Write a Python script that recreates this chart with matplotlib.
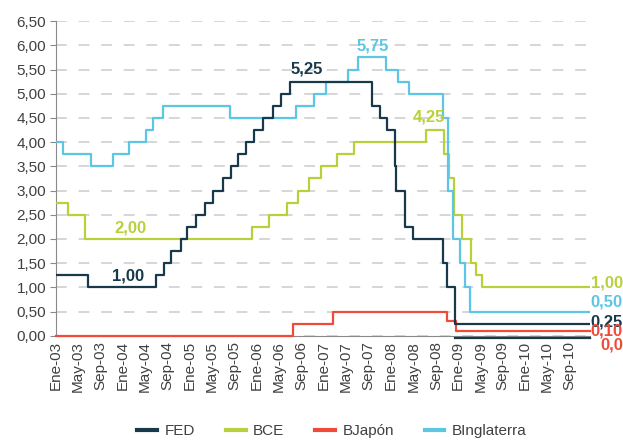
import numpy as np
import pandas as pd
import matplotlib
matplotlib.use('Agg')
import matplotlib.pyplot as plt
import matplotlib.dates as mdates
import matplotlib.transforms as mtransforms
from matplotlib.ticker import FuncFormatter, MultipleLocator

plt.rcParams['font.family'] = ['Liberation Sans', 'DejaVu Sans']

# fechas de cambio de tipo y nuevo tipo (%)
fed_fechas = ['2003-01-01', '2003-06-25', '2004-06-30', '2004-08-10', '2004-09-21', '2004-11-10',
              '2004-12-14', '2005-02-02', '2005-03-22', '2005-05-03', '2005-06-30', '2005-08-09',
              '2005-09-20', '2005-11-01', '2005-12-13', '2006-01-31', '2006-03-28', '2006-05-10',
              '2006-06-29', '2007-09-18', '2007-10-31', '2007-12-11', '2008-01-22', '2008-01-30',
              '2008-03-18', '2008-04-30', '2008-10-08', '2008-10-29', '2008-12-16']
fed_tipos = [1.25, 1.00, 1.25, 1.50, 1.75, 2.00, 2.25, 2.50, 2.75, 3.00, 3.25, 3.50, 3.75, 4.00,
             4.25, 4.50, 4.75, 5.00, 5.25, 4.75, 4.50, 4.25, 3.50, 3.00, 2.25, 2.00, 1.50, 1.00, 0.25]
fed_min_fechas = ['2008-12-16']
fed_min_tipos = [0.0]

bce_fechas = ['2003-01-01', '2003-03-07', '2003-06-06', '2005-12-06', '2006-03-08', '2006-06-15',
              '2006-08-09', '2006-10-11', '2006-12-13', '2007-03-14', '2007-06-13', '2008-07-09',
              '2008-10-15', '2008-11-12', '2008-12-10', '2009-01-21', '2009-03-11', '2009-04-08',
              '2009-05-13']
bce_tipos = [2.75, 2.50, 2.00, 2.25, 2.50, 2.75, 3.00, 3.25, 3.50, 3.75, 4.00, 4.25, 3.75, 3.25,
             2.50, 2.00, 1.50, 1.25, 1.00]

boj_fechas = ['2003-01-01', '2006-07-14', '2007-02-21', '2008-10-31', '2008-12-19']
boj_tipos = [0.0, 0.25, 0.50, 0.30, 0.10]

boe_fechas = ['2003-01-01', '2003-02-06', '2003-07-10', '2003-11-06', '2004-02-05', '2004-05-06',
              '2004-06-10', '2004-08-05', '2005-08-04', '2006-08-03', '2006-11-09', '2007-01-11',
              '2007-05-10', '2007-07-05', '2007-12-06', '2008-02-07', '2008-04-10', '2008-10-08',
              '2008-11-06', '2008-12-04', '2009-01-08', '2009-02-05', '2009-03-05']
boe_tipos = [4.00, 3.75, 3.50, 3.75, 4.00, 4.25, 4.50, 4.75, 4.50, 4.75, 5.00, 5.25, 5.50, 5.75,
             5.50, 5.25, 5.00, 4.50, 3.00, 2.00, 1.50, 1.00, 0.50]

fin = '2010-12-20'
meses = ['Ene', 'Feb', 'Mar', 'Abr', 'May', 'Jun', 'Jul', 'Ago', 'Sep', 'Oct', 'Nov', 'Dic']

c_fed = '#17394a'
c_bce = '#b9d03c'
c_boj = '#ef4a3a'
c_boe = '#5cc6e4'
c_txt = '#404040'


def escalon(fechas, tipos):
    x = pd.to_datetime(fechas + [fin])
    y = tipos + [tipos[-1]]
    return x, y


fig = plt.figure(figsize=(6.23, 4.40), dpi=100)
ax = fig.add_axes([0.09, 0.237, 0.857, 0.715])

lw = 1.6
x, y = escalon(fed_fechas, fed_tipos)
ax.plot(x, y, drawstyle='steps-post', color=c_fed, lw=lw, label='FED', zorder=4)
x, y = escalon(fed_min_fechas, fed_min_tipos)
off = mtransforms.offset_copy(ax.transData, fig=fig, x=0, y=-2, units='dots')
ax.plot(x, y, drawstyle='steps-post', color=c_fed, lw=lw, transform=off, clip_on=False, zorder=4)
x, y = escalon(bce_fechas, bce_tipos)
ax.plot(x, y, drawstyle='steps-post', color=c_bce, lw=lw, label='BCE', zorder=3)
x, y = escalon(boj_fechas, boj_tipos)
ax.plot(x, y, drawstyle='steps-post', color=c_boj, lw=lw, label='BJapón', zorder=3, clip_on=False)
x, y = escalon(boe_fechas, boe_tipos)
ax.plot(x, y, drawstyle='steps-post', color=c_boe, lw=lw, label='BInglaterra', zorder=3)

ax.set_xlim(pd.Timestamp('2003-01-01'), pd.Timestamp(fin))
ax.set_ylim(0, 6.5)
ax.yaxis.set_major_locator(MultipleLocator(0.5))
ax.yaxis.set_major_formatter(FuncFormatter(lambda v, p: f'{v:.2f}'.replace('.', ',')))
ax.xaxis.set_major_locator(mdates.MonthLocator(bymonth=[1, 5, 9]))
ax.xaxis.set_major_formatter(FuncFormatter(
    lambda v, p: f"{meses[mdates.num2date(v).month - 1]}-{mdates.num2date(v).year % 100:02d}"))
plt.setp(ax.get_xticklabels(), rotation=90)

ax.grid(axis='y', color='#d3d3d3', ls=(0, (6, 6.5)), lw=1.3)
ax.set_axisbelow(True)
for s in ['top', 'right']:
    ax.spines[s].set_visible(False)
ax.spines['left'].set_color('#8a8a8a')
ax.spines['bottom'].set_color('#8a8a8a')
ax.tick_params(axis='y', length=4, color='#8a8a8a', labelsize=11, labelcolor=c_txt, pad=3)
ax.tick_params(axis='x', length=0, labelsize=11, labelcolor=c_txt, pad=4)

# etiquetas de valores
kw = dict(fontsize=12, fontweight='bold', ha='center', va='center')
ax.text(pd.Timestamp('2006-09-28'), 5.52, '5,25', color=c_fed, **kw)
ax.text(pd.Timestamp('2007-09-25'), 5.99, '5,75', color=c_boe, **kw)
ax.text(pd.Timestamp('2008-07-25'), 4.52, '4,25', color=c_bce, **kw)
ax.text(pd.Timestamp('2004-02-12'), 2.23, '2,00', color=c_bce, **kw)
ax.text(pd.Timestamp('2004-01-26'), 1.23, '1,00', color=c_fed, **kw)

kw_r = dict(fontsize=12, fontweight='bold', ha='left', va='center', clip_on=False)
ax.text(1.001, 1.09 / 6.5, '1,00', color=c_bce, transform=ax.transAxes, **kw_r)
ax.text(1.001, 0.70 / 6.5, '0,50', color=c_boe, transform=ax.transAxes, **kw_r)
ax.text(1.001, 0.28 / 6.5, '0,25', color=c_fed, transform=ax.transAxes, **kw_r)
ax.text(1.001, 0.10 / 6.5, '0,10', color=c_boj, transform=ax.transAxes, **kw_r)
ax.text(1.019, -0.20 / 6.5, '0,00', color=c_boj, transform=ax.transAxes, **kw_r)

leg = fig.legend(loc='center', bbox_to_anchor=(0.533, 0.02), ncol=4, frameon=False,
                 fontsize=11, handlelength=1.3, columnspacing=2.0, handletextpad=0.5)
for t in leg.get_texts():
    t.set_color(c_txt)
for l in leg.get_lines():
    l.set_linewidth(3)

fig.savefig('out.png', dpi=100)
